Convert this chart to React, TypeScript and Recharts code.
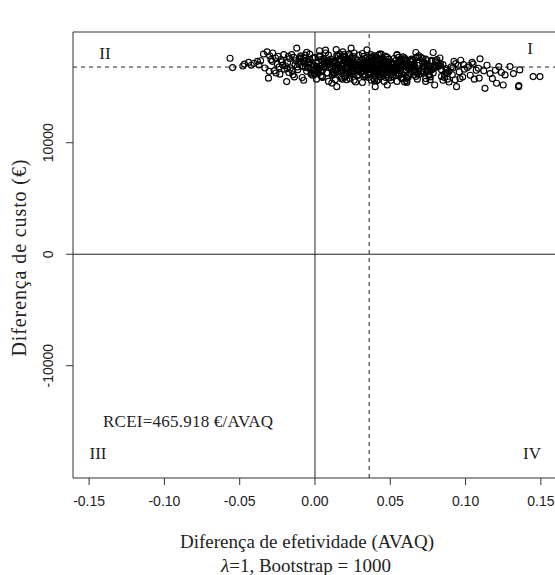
import React from "react";
import {
  ScatterChart,
  Scatter,
  XAxis,
  YAxis,
  ReferenceLine,
} from "recharts";

// bootstrap replicates: [effect difference (AVAQ), cost difference (€)]
const replicates: [number, number][] = [
  [-0.0564, 17580], [-0.0547, 16740],
  [-0.0468, 17050], [-0.0441, 17200], [-0.0423, 16950], [-0.0479, 16880], [-0.0405, 17120], [-0.0382, 17300],
  [-0.0342, 17950], [-0.0318, 18150], [-0.0301, 17800], [-0.0309, 15790], [-0.0361, 17350], [-0.0333, 16700],
  [-0.0292, 17450], [-0.0372, 16980], [-0.0281, 18050], [-0.0304, 16400],
  [-0.0262, 17600], [-0.0238, 16800], [-0.0219, 17250], [-0.0271, 16450], [-0.0207, 17900], [-0.0233, 16150],
  [-0.0251, 17050], [-0.0203, 16600], [-0.0284, 17300], [-0.0244, 17750], [-0.0213, 16950], [-0.0259, 16250],
  [-0.0226, 17450],
  [-0.0188, 15480], [-0.0182, 17200], [-0.0163, 16700], [-0.0141, 17650], [-0.0121, 18480], [-0.0174, 16300],
  [-0.0132, 17000], [-0.0114, 16550], [-0.0155, 17900], [-0.0196, 16900], [-0.0146, 16100], [-0.0127, 17350],
  [-0.0168, 17550], [-0.0185, 16650], [-0.0109, 17100], [-0.0137, 15900], [-0.0177, 17750], [-0.0152, 16450],
  [-0.0118, 16800], [-0.0102, 17500],
  [-0.0075, 17300], [-0.0025, 16600], [-0.0095, 17800], [-0.0005, 16200], [-0.0045, 17050], [-0.0065, 16750],
  [-0.0015, 17600], [-0.0085, 15850], [-0.0035, 17200], [-0.0055, 16400],
  [-0.0035, 17950], [-0.0085, 16900], [-0.0055, 17400], [-0.0015, 16050], [-0.0095, 17700], [-0.0005, 16500],
  [-0.0065, 17100], [-0.0025, 16300], [-0.0075, 17600], [-0.0045, 16700],
  [-0.0055, 18100], [-0.0005, 16950], [-0.0075, 15600], [-0.0035, 17450], [-0.0085, 16850], [-0.0025, 16150],
  [-0.0095, 17550], [-0.0045, 17250], [-0.0015, 16550], [-0.0065, 17850],
  [0.001, 17150], [0.002, 16450], [0.003, 17700], [0.004, 16000], [0.005, 17350], [0.006, 16800],
  [0.007, 18050], [0.008, 16250], [0.009, 17000], [0.0, 16600],
  [0.009, 17850], [0.004, 16900], [0.001, 15700], [0.006, 17500], [0.002, 16350], [0.007, 17250],
  [0.003, 16650], [0.0, 17600], [0.005, 15950], [0.008, 17400],
  [0.002, 16700], [0.006, 17300], [0.0, 16150], [0.008, 17050], [0.003, 17800], [0.005, 16500],
  [0.009, 17150], [0.001, 16850], [0.004, 17450], [0.007, 18300],
  [0.007, 16950], [0.002, 16550], [0.009, 15500], [0.0, 17650], [0.004, 16400], [0.006, 17100],
  [0.001, 16750], [0.008, 16250], [0.003, 18250], [0.005, 15850],
  [0.0135, 17200], [0.0185, 16500], [0.0155, 17750], [0.0115, 16100], [0.0195, 17350], [0.0105, 16800],
  [0.0165, 17950], [0.0125, 16300], [0.0175, 17050], [0.0145, 15030],
  [0.0155, 16650], [0.0105, 17500], [0.0175, 15800], [0.0135, 17150], [0.0185, 16850], [0.0125, 16250],
  [0.0195, 17650], [0.0145, 16550], [0.0115, 17300], [0.0165, 15950],
  [0.0195, 17900], [0.0145, 16950], [0.0115, 16400], [0.0165, 17550], [0.0125, 17100], [0.0175, 16700],
  [0.0135, 15650], [0.0105, 17200], [0.0155, 16900], [0.0185, 17700],
  [0.0125, 16150], [0.0165, 17350], [0.0105, 16750], [0.0185, 18150], [0.0135, 16450], [0.0155, 17000],
  [0.0195, 17400], [0.0115, 16050], [0.0145, 17850], [0.0175, 16600],
  [0.0112, 15350], [0.0128, 17250], [0.0133, 16700], [0.0151, 17800], [0.0162, 16350], [0.0171, 16950],
  [0.0182, 15700], [0.0193, 17450], [0.0141, 18350],
  [0.022, 17100], [0.026, 16450], [0.02, 17650], [0.028, 16000], [0.023, 17300], [0.025, 16700],
  [0.029, 17850], [0.021, 16250], [0.024, 18480], [0.027, 16950],
  [0.021, 16600], [0.022, 17450], [0.023, 15750], [0.024, 17050], [0.025, 16850], [0.026, 16150],
  [0.027, 17550], [0.028, 16500], [0.029, 17200], [0.02, 15900],
  [0.023, 17800], [0.028, 16900], [0.025, 16350], [0.021, 17500], [0.029, 17000], [0.02, 16650],
  [0.026, 15600], [0.022, 17150], [0.027, 16800], [0.024, 17600],
  [0.029, 16100], [0.024, 17250], [0.021, 16750], [0.026, 18050], [0.022, 16400], [0.027, 16950],
  [0.023, 17350], [0.02, 15950], [0.025, 17750], [0.028, 16550],
  [0.027, 15450], [0.022, 17150], [0.029, 16600], [0.02, 17700], [0.024, 16300], [0.026, 16900],
  [0.021, 15650], [0.028, 17400], [0.023, 16050], [0.025, 17050],
  [0.0213, 16750], [0.0234, 16200], [0.0252, 17600], [0.0273, 16850], [0.0291, 16400], [0.0226, 17950],
  [0.0355, 17050], [0.0305, 16400], [0.0375, 17600], [0.0335, 15950], [0.0385, 17250], [0.0325, 16650],
  [0.0395, 17800], [0.0345, 18330], [0.0315, 16900], [0.0365, 16200],
  [0.0375, 16550], [0.0325, 17400], [0.0395, 15700], [0.0305, 17000], [0.0345, 16800], [0.0365, 16100],
  [0.0315, 17500], [0.0385, 16450], [0.0335, 17150], [0.0355, 15850],
  [0.0325, 17750], [0.0365, 16850], [0.0305, 16300], [0.0385, 17450], [0.0335, 16950], [0.0355, 16600],
  [0.0395, 15550], [0.0315, 17100], [0.0345, 16750], [0.0375, 17550],
  [0.0335, 16050], [0.0385, 17200], [0.0355, 16700], [0.0315, 18000], [0.0395, 16350], [0.0305, 16900],
  [0.0365, 17300], [0.0325, 15900], [0.0375, 17700], [0.0345, 16500],
  [0.0315, 15400], [0.0325, 17100], [0.0335, 16550], [0.0345, 17650], [0.0355, 16250], [0.0365, 16850],
  [0.0375, 15600], [0.0385, 17350], [0.0395, 16000], [0.0305, 17000],
  [0.0312, 16700], [0.0321, 16150], [0.0333, 17550], [0.0352, 16800], [0.0361, 16350], [0.0372, 17900],
  [0.0383, 16600], [0.0391, 16250], [0.0342, 17200],
  [0.049, 16850], [0.044, 17950], [0.041, 16350], [0.046, 16600], [0.042, 17550], [0.047, 17750],
  [0.043, 15900], [0.04, 15030], [0.045, 17200], [0.048, 15180],
  [0.043, 16950], [0.048, 17100], [0.045, 16050], [0.041, 17350], [0.049, 15800], [0.04, 16500],
  [0.046, 17450], [0.042, 15650], [0.047, 16400], [0.044, 16750],
  [0.041, 16800], [0.042, 16250], [0.043, 17400], [0.044, 16900], [0.045, 16550], [0.046, 15500],
  [0.047, 17050], [0.048, 16700], [0.049, 17500], [0.04, 17700],
  [0.042, 16650], [0.046, 17250], [0.04, 16000], [0.048, 17650], [0.043, 17950], [0.045, 16850],
  [0.049, 16450], [0.041, 17150], [0.044, 16300], [0.047, 15850],
  [0.045, 16200], [0.04, 16900], [0.047, 17300], [0.043, 16500], [0.048, 16100], [0.042, 17050],
  [0.049, 17150], [0.044, 17600], [0.041, 15550], [0.046, 16800],
  [0.0412, 16650], [0.0433, 16100], [0.0451, 17500], [0.0472, 16750], [0.0494, 16300], [0.0421, 17850],
  [0.0463, 16400],
  [0.0575, 17000], [0.0525, 16300], [0.0595, 17500], [0.0505, 15850], [0.0545, 17900], [0.0565, 17150],
  [0.0515, 16550], [0.0585, 17700], [0.0535, 16100], [0.0555, 16800],
  [0.0525, 16450], [0.0565, 17300], [0.0505, 15600], [0.0585, 16900], [0.0535, 16700], [0.0555, 16000],
  [0.0595, 17400], [0.0515, 16350], [0.0545, 17050], [0.0575, 15750],
  [0.0555, 17650], [0.0505, 16750], [0.0575, 16200], [0.0535, 17350], [0.0585, 16850], [0.0525, 16500],
  [0.0595, 15450], [0.0545, 17000], [0.0515, 16650], [0.0565, 17450],
  [0.0515, 15950], [0.0525, 17100], [0.0535, 16600], [0.0545, 17850], [0.0555, 16250], [0.0565, 16800],
  [0.0575, 17200], [0.0585, 15800], [0.0595, 17600], [0.0505, 16400],
  [0.0595, 16850], [0.0545, 15500], [0.0515, 17000], [0.0565, 16450], [0.0525, 17550], [0.0575, 16150],
  [0.0535, 16750], [0.0505, 17250], [0.0555, 16050], [0.0585, 17100],
  [0.0542, 16600],
  [0.063, 16950], [0.068, 16250], [0.065, 17450], [0.061, 15800], [0.069, 17800], [0.06, 17100],
  [0.066, 16500], [0.062, 16050], [0.067, 18090], [0.064, 16750],
  [0.069, 16400], [0.064, 17250], [0.061, 15550], [0.066, 16850], [0.062, 16650], [0.067, 15950],
  [0.063, 17350], [0.06, 16300], [0.065, 17000], [0.068, 15700],
  [0.067, 17600], [0.062, 16700], [0.069, 16150], [0.06, 17300], [0.064, 16800], [0.066, 16450],
  [0.061, 15400], [0.068, 16950], [0.063, 16600], [0.065, 17400],
  [0.062, 15900], [0.066, 17050], [0.06, 16550], [0.068, 17700], [0.063, 16200], [0.065, 16750],
  [0.069, 17150], [0.061, 15750], [0.064, 17500], [0.067, 16350],
  [0.0624, 16900], [0.0661, 16100],
  [0.0755, 16900], [0.0705, 16200], [0.0775, 17400], [0.0735, 15750], [0.0785, 18090], [0.0725, 17050],
  [0.0795, 15180], [0.0745, 16450], [0.0715, 17550], [0.0765, 16700],
  [0.0715, 16350], [0.0725, 17200], [0.0735, 15500], [0.0745, 16800], [0.0755, 16600], [0.0765, 15900],
  [0.0775, 17300], [0.0785, 16250], [0.0795, 16950], [0.0705, 17650],
  [0.0735, 17500], [0.0785, 16650], [0.0755, 16100], [0.0715, 17250], [0.0795, 16750], [0.0705, 16400],
  [0.0765, 15650], [0.0725, 16900], [0.0775, 16550], [0.0745, 17350],
  [0.0722, 16850], [0.0761, 16050],
  [0.082, 16850], [0.086, 16150], [0.08, 17350], [0.088, 15700], [0.083, 17600], [0.085, 17000],
  [0.089, 16400], [0.081, 17450], [0.084, 15950], [0.087, 16650],
  [0.087, 16300], [0.082, 17150], [0.089, 15450], [0.08, 16750], [0.084, 16550], [0.086, 15850],
  [0.081, 17250], [0.088, 16200], [0.083, 16900], [0.085, 15600],
  [0.0834, 17050], [0.0872, 16500],
  [0.0905, 16800], [0.0912, 16100], [0.0923, 17300], [0.0931, 15650], [0.094, 15030], [0.0952, 16950],
  [0.0958, 16350], [0.0968, 17400], [0.0981, 15900], [0.0992, 16600], [0.0915, 16700], [0.0935, 17100],
  [0.0963, 15750], [0.0987, 17000],
  [0.1012, 16750], [0.1031, 16050], [0.1043, 17200], [0.1058, 15700], [0.1071, 16500], [0.1096, 17520],
  [0.1085, 16680], [0.109, 15790], [0.1022, 16900], [0.105, 17050],
  [0.1121, 16450], [0.1129, 14880], [0.1142, 16950], [0.1163, 16200], [0.1178, 15750],
  [0.1198, 16500], [0.1206, 15330], [0.1221, 16830], [0.1238, 16300], [0.125, 15180], [0.1262, 16080],
  [0.1295, 16830], [0.136, 16530], [0.1352, 15030], [0.1354, 15130], [0.1318, 16200],
  [0.1449, 15930], [0.1494, 15930],
];

const xTicks = [-0.15, -0.1, -0.05, 0, 0.05, 0.1, 0.15];
const yTicks = [-10000, 0, 10000];
const meanEffect = 0.036;
const meanCost = 16784;

const data = replicates.map(([x, y]) => ({ x, y }));

const SANS = '"Liberation Sans", Arial, sans-serif';
const SERIF = '"Liberation Serif", "Times New Roman", serif';

const Ring = (props: any) => (
  <circle
    cx={props.cx}
    cy={props.cy}
    r={3}
    fill="none"
    stroke="#000"
    strokeWidth={1.15}
  />
);

const YTick = (props: any) => {
  const { y, payload } = props;
  return (
    <text
      x={53}
      y={y}
      transform={`rotate(-90 53 ${y})`}
      textAnchor="middle"
      fontSize={14}
      fontFamily={SANS}
      fill="#222"
    >
      {payload.value}
    </text>
  );
};

export default function App() {
  return (
    <div style={{ position: "absolute", left: 0, top: 0, width: 555, height: 575, background: "#fff" }}>
      <ScatterChart
        width={555}
        height={575}
        margin={{ top: 32, right: 0, bottom: 0, left: 0 }}
      >
        <XAxis
          type="number"
          dataKey="x"
          domain={[-0.1607, 0.1594]}
          ticks={xTicks}
          interval={0}
          allowDataOverflow
          tickFormatter={(v: number) => v.toFixed(2)}
          tickSize={7}
          tickMargin={11}
          height={97}
          stroke="#333"
          tick={{ fontSize: 14, fontFamily: SANS, fill: "#222" }}
        />
        <YAxis
          type="number"
          dataKey="y"
          domain={[-20070, 19930]}
          ticks={yTicks}
          interval={0}
          allowDataOverflow
          width={73}
          tickSize={7}
          stroke="#333"
          tick={(p: any) => <YTick {...p} />}
        />
        <ReferenceLine y={19930} stroke="#333" />
        <ReferenceLine x={0} stroke="#222" />
        <ReferenceLine y={0} stroke="#222" />
        <ReferenceLine x={meanEffect} stroke="#222" strokeDasharray="4 4" />
        <ReferenceLine y={meanCost} stroke="#222" strokeDasharray="4 4" />
        <Scatter data={data} shape={Ring} isAnimationActive={false} />
      </ScatterChart>

      <svg
        width={555}
        height={575}
        style={{ position: "absolute", left: 0, top: 0, pointerEvents: "none" }}
      >
        <g fontFamily={SERIF} fill="#222" fontSize={17}>
          <text x={105} y={58.5} textAnchor="middle">II</text>
          <text x={530} y={54} textAnchor="middle">I</text>
          <text x={98} y={459} textAnchor="middle">III</text>
          <text x={532} y={459} textAnchor="middle">IV</text>
          <text x={103} y={426.5} textLength={170} lengthAdjust="spacing">
            RCEI=465.918 €/AVAQ
          </text>
        </g>
        <g fontFamily={SERIF} fill="#222">
          <text x={307} y={547.5} textAnchor="middle" fontSize={19}>
            Diferença de efetividade (AVAQ)
          </text>
          <text x={306} y={572} textAnchor="middle" fontSize={19}>
            <tspan fontStyle="italic">λ</tspan>=1, Bootstrap = 1000
          </text>
          <text
            x={26}
            y={258}
            transform="rotate(-90 26 258)"
            textAnchor="middle"
            fontSize={20}
            textLength={197}
            lengthAdjust="spacing"
          >
            Diferença de custo (€)
          </text>
        </g>
      </svg>
    </div>
  );
}
